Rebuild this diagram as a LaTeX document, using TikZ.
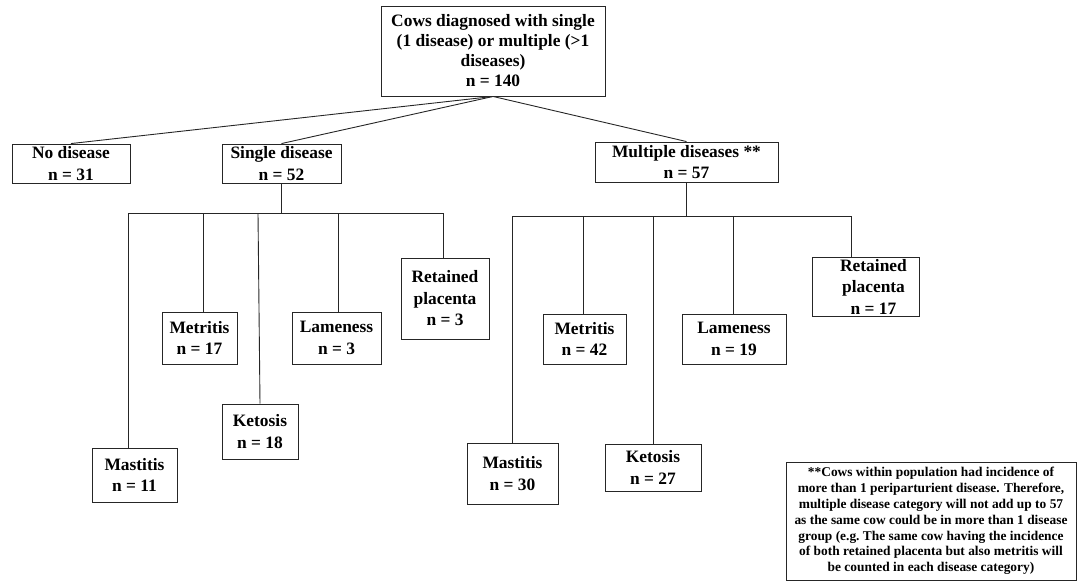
\documentclass[tikz,border=0pt]{standalone}
\usepackage{fontspec}
\setmainfont{Liberation Serif}
\usetikzlibrary{calc}
\begin{document}
\begin{tikzpicture}[x=1pt,y=-1pt,
  box/.style={draw=black!85, line width=0.9pt, inner sep=0pt, align=center,
    font=\fontsize{17.4}{21.5}\selectfont\bfseries},
  lbl/.style={inner sep=0pt, align=center, font=\fontsize{17.4}{21.5}\selectfont\bfseries},
  conn/.style={draw=black!85, line width=0.9pt},
  note/.style={draw=black!85, line width=0.9pt, inner sep=0pt, align=center,
    font=\fontsize{13.4}{15.8}\selectfont\bfseries}]
\useasboundingbox (0,0) rectangle (1077,582);

% level 0
\node[box, font=\fontsize{17.4}{20}\selectfont\bfseries, minimum width=224pt, minimum height=90pt] (top) at (493,51)
  {Cows diagnosed with single\\(1 disease) or multiple (>1\\diseases)\\n = 140};

% level 1
\node[box, minimum width=118pt, minimum height=39pt] (nod) at (71,163.5) {No disease\\n = 31};
\node[box, minimum width=119pt, minimum height=39pt] (sgl) at (281.5,163.5) {Single disease\\n = 52};
\node[box, minimum width=183pt, minimum height=40pt] (mul) at (686.5,162) {Multiple diseases **\\n = 57};

% single disease children
\node[box, minimum width=85pt, minimum height=54pt] (smas) at (134.5,475) {Mastitis\\n = 11};
\node[box, minimum width=75pt, minimum height=52pt] (smet) at (199.5,338) {Metritis\\n = 17};
\node[box, minimum width=76pt, minimum height=55pt] (sket) at (260,431.5) {Ketosis\\n = 18};
\node[box, minimum width=89pt, minimum height=52pt] (slam) at (336.5,338) {Lameness\\n = 3};
\node[box, minimum width=88pt, minimum height=81pt] (sret) at (445,298.5) {Retained\\placenta\\n = 3};

% multiple disease children
\node[box, minimum width=91pt, minimum height=61pt] (mmas) at (512.5,473.5) {Mastitis\\n = 30};
\node[box, minimum width=83pt, minimum height=50pt] (mmet) at (584.5,339) {Metritis\\n = 42};
\node[box, minimum width=96pt, minimum height=47pt] (mket) at (653,467.5) {Ketosis\\n = 27};
\node[box, minimum width=104pt, minimum height=50pt] (mlam) at (734,339) {Lameness\\n = 19};
\node[box, minimum width=107pt, minimum height=59pt] (mret) at (865.5,286.5) {};
\node[lbl] (mrett) at ($(mret.center)+(8,0)$) {Retained\\placenta\\n = 17};

% footnote
\node[note, minimum width=290pt, minimum height=118pt] (fn) at (931,521)
  {**Cows within population had incidence of\\more than 1 periparturient disease. Therefore,\\multiple disease category will not add up to 57\\as the same cow could be in more than 1 disease\\group (e.g.\ The same cow having the incidence\\of both retained placenta but also metritis will\\be counted in each disease category)};

% connectors from top
\draw[conn] (top.south) -- (nod.north);
\draw[conn] (top.south) -- (sgl.north);
\draw[conn] (top.south) -- (mul.north);

% single disease tree
\coordinate (sbus) at (281.5,213);
\draw[conn] (sgl.south) -- (sbus);
\draw[conn] ($(smas.north)+(-6.5,0)$) |- ($(sret.north |- sbus)+(-2,0)$) -- ($(sret.north)+(-2,0)$);
\draw[conn] ($(smet.north)+(3.5,0)$) -- ($(smet.north |- sbus)+(3.5,0)$);
\draw[conn] (sket.north) -- ($(sket.north |- sbus)+(-2,0)$);
\draw[conn] ($(slam.north)+(1.5,0)$) -- ($(slam.north |- sbus)+(1.5,0)$);

% multiple disease tree
\coordinate (mbus) at (686.5,216);
\draw[conn] (mul.south) -- (mbus);
\draw[conn] (mmas.north) |- ($(mret.north |- mbus)+(-14.5,0)$) -- ($(mret.north)+(-14.5,0)$);
\draw[conn] ($(mmet.north)+(-1.5,0)$) -- ($(mmet.north |- mbus)+(-1.5,0)$);
\draw[conn] (mket.north) -- (mket.north |- mbus);
\draw[conn] ($(mlam.north)+(-1,0)$) -- ($(mlam.north |- mbus)+(-1,0)$);
\end{tikzpicture}
\end{document}
